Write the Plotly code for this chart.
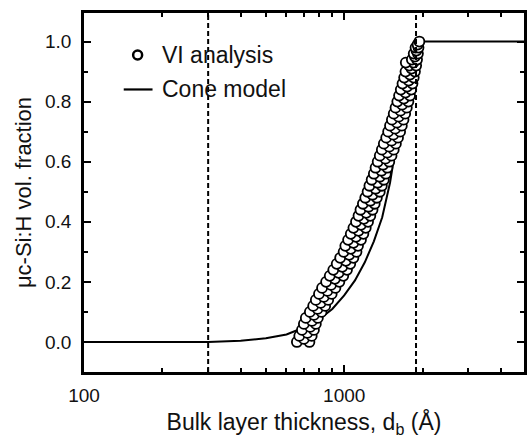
import plotly.graph_objects as go

# VI analysis data (thickness in Å, volume fraction)
vi_x = [658, 735, 700, 672, 750, 722, 688, 765, 740, 700, 778, 752, 712, 792, 765,
        738, 818, 790, 760, 845, 812, 778, 868, 835, 800, 895, 862, 822, 925, 890,
        852, 958, 921, 880, 992, 952, 908, 1025, 983, 936, 1055, 1015, 965, 1085, 1045,
        995, 1115, 1060, 1010, 1130, 1085, 1035, 1160, 1110, 1060, 1185, 1135, 1085, 1210, 1160,
        1110, 1235, 1190, 1135, 1260, 1215, 1155, 1285, 1240, 1180, 1310, 1260, 1205, 1335, 1285,
        1230, 1370, 1320, 1250, 1395, 1345, 1275, 1420, 1370, 1300, 1445, 1390, 1320, 1465, 1410,
        1345, 1490, 1440, 1370, 1520, 1465, 1395, 1550, 1490, 1420, 1580, 1520, 1450, 1610, 1545,
        1475, 1640, 1570, 1500, 1665, 1595, 1525, 1690, 1620, 1550, 1715, 1645, 1575, 1740, 1670,
        1600, 1765, 1695, 1625, 1790, 1720, 1650, 1810, 1745, 1675, 1830, 1770, 1700, 1850, 1790,
        1720, 1870, 1815, 1780, 1890, 1845, 1725, 1820, 1905, 1870, 1850, 1920, 1895, 1880, 1930,
        1915, 1945]
vi_y = [0.00, 0.00, 0.01, 0.02, 0.02, 0.03, 0.04, 0.04, 0.05, 0.06, 0.06, 0.07, 0.08, 0.08, 0.09,
        0.10, 0.10, 0.11, 0.12, 0.12, 0.13, 0.14, 0.14, 0.15, 0.16, 0.16, 0.17, 0.18, 0.18, 0.19,
        0.20, 0.20, 0.21, 0.22, 0.22, 0.23, 0.24, 0.24, 0.25, 0.26, 0.26, 0.27, 0.28, 0.28, 0.29,
        0.30, 0.30, 0.31, 0.32, 0.32, 0.33, 0.34, 0.34, 0.35, 0.36, 0.36, 0.37, 0.38, 0.38, 0.39,
        0.40, 0.40, 0.41, 0.42, 0.42, 0.43, 0.44, 0.44, 0.45, 0.46, 0.46, 0.47, 0.48, 0.48, 0.49,
        0.50, 0.50, 0.51, 0.52, 0.52, 0.53, 0.54, 0.54, 0.55, 0.56, 0.56, 0.57, 0.58, 0.58, 0.59,
        0.60, 0.60, 0.61, 0.62, 0.62, 0.63, 0.64, 0.64, 0.65, 0.66, 0.66, 0.67, 0.68, 0.68, 0.69,
        0.70, 0.70, 0.71, 0.72, 0.72, 0.73, 0.74, 0.74, 0.75, 0.76, 0.76, 0.77, 0.78, 0.78, 0.79,
        0.80, 0.80, 0.81, 0.82, 0.82, 0.83, 0.84, 0.84, 0.85, 0.86, 0.86, 0.87, 0.88, 0.88, 0.89,
        0.90, 0.90, 0.91, 0.92, 0.92, 0.93, 0.93, 0.94, 0.94, 0.95, 0.96, 0.96, 0.97, 0.98, 0.98,
        0.99, 1.00]

# Cone model curve
cone_x = [100, 300, 400, 500, 600, 700, 800, 900, 1000, 1100, 1200, 1300, 1400, 1500,
          1600, 1700, 1800, 1888, 5000]
cone_y = [0.0, 0.0, 0.004, 0.012, 0.025, 0.048, 0.075, 0.11, 0.155, 0.205, 0.265, 0.335, 0.415,
          0.53, 0.68, 0.79, 0.90, 1.0, 1.0]

# Vertical dashed reference lines
vlines_x = [300, 1888]

x_ticks = [100, 1000]
x_minor = [200, 300, 400, 500, 600, 700, 800, 900, 2000, 3000, 4000]
y_ticks = [0.0, 0.2, 0.4, 0.6, 0.8, 1.0]

FONT = "Liberation Sans, Arial, Helvetica, sans-serif"

fig = go.Figure()

fig.add_trace(go.Scatter(
    x=cone_x, y=cone_y, mode="lines", name="Cone model",
    line=dict(color="black", width=2), showlegend=False))

fig.add_trace(go.Scatter(
    x=vi_x, y=vi_y, mode="markers", name="VI analysis",
    marker=dict(symbol="circle", size=10, color="white",
                line=dict(color="black", width=1.8)), showlegend=False))

for vx in vlines_x:
    fig.add_shape(type="line", xref="x", yref="paper", x0=vx, x1=vx, y0=0, y1=1,
                  line=dict(color="black", width=2, dash="5px,3px"))

# Legend (drawn manually inside the plot)
fig.add_trace(go.Scatter(
    x=[138], y=[0.883], xaxis="x2", yaxis="y2", mode="markers",
    marker=dict(symbol="circle", size=9, color="white", line=dict(color="black", width=2.5)),
    showlegend=False, hoverinfo="skip"))
fig.add_trace(go.Scatter(
    x=[124, 153], y=[0.787, 0.787], xaxis="x2", yaxis="y2", mode="lines",
    line=dict(color="black", width=2.2), showlegend=False, hoverinfo="skip"))
fig.add_annotation(x=161, y=0.883, xref="x2", yref="y2", text="VI analysis", showarrow=False,
                   xanchor="left", yanchor="middle", font=dict(size=23, color="#111", family=FONT))
fig.add_annotation(x=161, y=0.787, xref="x2", yref="y2", text="Cone model", showarrow=False,
                   xanchor="left", yanchor="middle", font=dict(size=23, color="#111", family=FONT))

fig.update_layout(
    width=529, height=438,
    margin=dict(l=84, r=2, t=13, b=66),
    paper_bgcolor="white", plot_bgcolor="white",
    font=dict(family=FONT, color="#111", size=18),
    xaxis=dict(
        type="log", range=[2, 3.691],
        tickvals=x_ticks, ticktext=["100", "1000"],
        ticks="inside", ticklen=7, tickwidth=1.5, tickcolor="black",
        minor=dict(tickvals=x_minor, ticks="inside", ticklen=4, tickwidth=1.5,
                   tickcolor="black", showgrid=False),
        showline=True, linecolor="black", linewidth=2.5, mirror="ticks",
        showgrid=False, zeroline=False,
        tickfont=dict(size=19),
        ticklabelstandoff=4,
        title=dict(text="Bulk layer thickness, d<sub>b</sub> (Å)", font=dict(size=23), standoff=14),
    ),
    yaxis=dict(
        range=[-0.10, 1.095],
        tickvals=y_ticks, ticktext=["0.0", "0.2", "0.4", "0.6", "0.8", "1.0"],
        ticks="inside", ticklen=7, tickwidth=1.5, tickcolor="black",
        minor=dict(dtick=0.1, tick0=0, ticks="inside", ticklen=4, tickwidth=1.5,
                   tickcolor="black", showgrid=False),
        showline=True, linecolor="black", linewidth=2.5, mirror="ticks",
        showgrid=False, zeroline=False,
        tickfont=dict(size=19),
        ticklabelstandoff=6,
        title=dict(text="μc-Si:H vol. fraction", font=dict(size=22), standoff=8),
    ),
    xaxis2=dict(overlaying="x", range=[84, 527], visible=False, fixedrange=True),
    yaxis2=dict(overlaying="y", range=[0, 1], visible=False, fixedrange=True),
    showlegend=False,
)

fig.write_html("out.html")
